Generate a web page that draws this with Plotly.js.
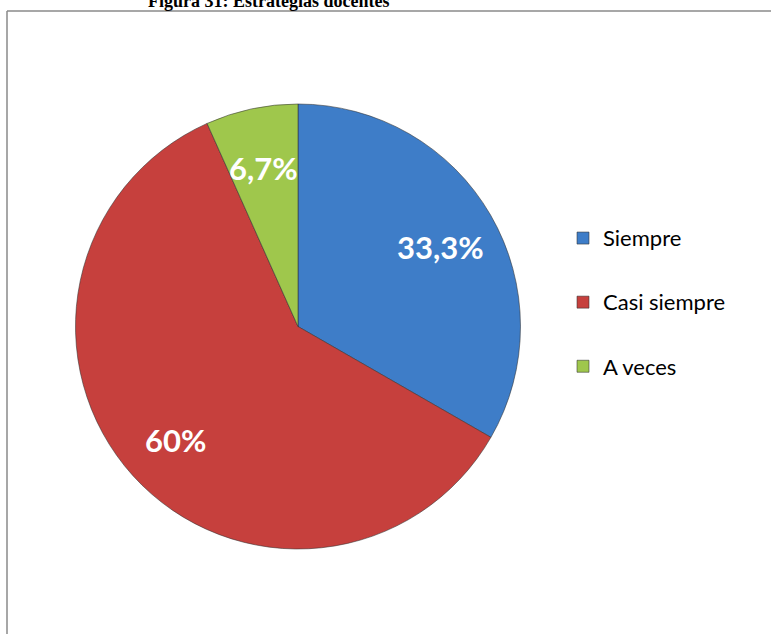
<!DOCTYPE html>
<html><head><meta charset="utf-8">
<script src="https://cdn.plot.ly/plotly-3.0.1.min.js"></script>
<style>html,body{margin:0;padding:0;background:#fff}#chart{width:771px;height:634px}</style>
</head><body><div id="chart"></div>
<script>
const categories = ["Siempre", "Casi siempre", "A veces"];
const values = [33.3, 60, 6.7];
const valueLabels = ["33,3%", "60%", "6,7%"];
const colors = ["#3E7DC8", "#C6403D", "#9FC74C"];
const chartTitle = "Figura 31: Estrategias docentes";

const W = 771, H = 634;
const cx = 298, cy = 326.5, r = 222.5;
const dom = {x: [(cx - r) / W, (cx + r) / W], y: [1 - (cy + r) / H, 1 - (cy - r) / H]};

const total = values.reduce((a, b) => a + b, 0);
let cum = 0;
const annotations = [];
values.forEach((v, i) => {
  const th = 2 * Math.PI * (cum + v / 2) / total; cum += v;
  const f = 0.74;
  const px = cx + f * r * Math.sin(th), py = cy - f * r * Math.cos(th) + 3;
  annotations.push({xref: 'paper', yref: 'paper', x: px / W, y: 1 - py / H,
    xanchor: 'center', yanchor: 'middle', text: '<b>' + valueLabels[i] + '</b>', showarrow: false,
    font: {family: 'Lato', size: 31, color: '#ffffff'}});
});
annotations.push({xref: 'paper', yref: 'paper', x: 268 / W, y: 1 - 1.5 / H, xanchor: 'center', yanchor: 'middle',
  text: '<b>' + chartTitle + '</b>', showarrow: false, font: {family: 'Liberation Serif', size: 18, color: '#000'}});

const legendLabels = categories.map(c => '<span style="font-size:22px;baseline-shift:10px">' + c + '</span>');

const trace = {
  type: 'pie', labels: legendLabels, values: values, sort: false, direction: 'clockwise', rotation: 0,
  marker: {colors: colors, line: {color: 'rgba(50,50,50,0.55)', width: 1}},
  textinfo: 'none', hoverinfo: 'label+percent', domain: dom
};

const layout = {
  width: W, height: H, margin: {l: 0, r: 0, t: 0, b: 0},
  paper_bgcolor: '#fff', showlegend: true,
  legend: {x: 563 / W, xanchor: 'left', y: 1 - 201 / H, yanchor: 'top',
    font: {family: 'Lato', size: 47, color: '#000'}, bgcolor: 'rgba(0,0,0,0)'},
  annotations: annotations,
  shapes: [
    {type: 'line', xref: 'paper', yref: 'paper', x0: 7 / W, x1: 1.05, y0: 1 - 11 / H, y1: 1 - 11 / H, line: {color: '#8a8a8a', width: 1.5}},
    {type: 'line', xref: 'paper', yref: 'paper', x0: 7 / W, x1: 7 / W, y0: 1 - 11 / H, y1: -0.05, line: {color: '#8a8a8a', width: 1.5}}
  ]
};
Plotly.newPlot('chart', [trace], layout, {displayModeBar: false, staticPlot: true});
</script></body></html>
